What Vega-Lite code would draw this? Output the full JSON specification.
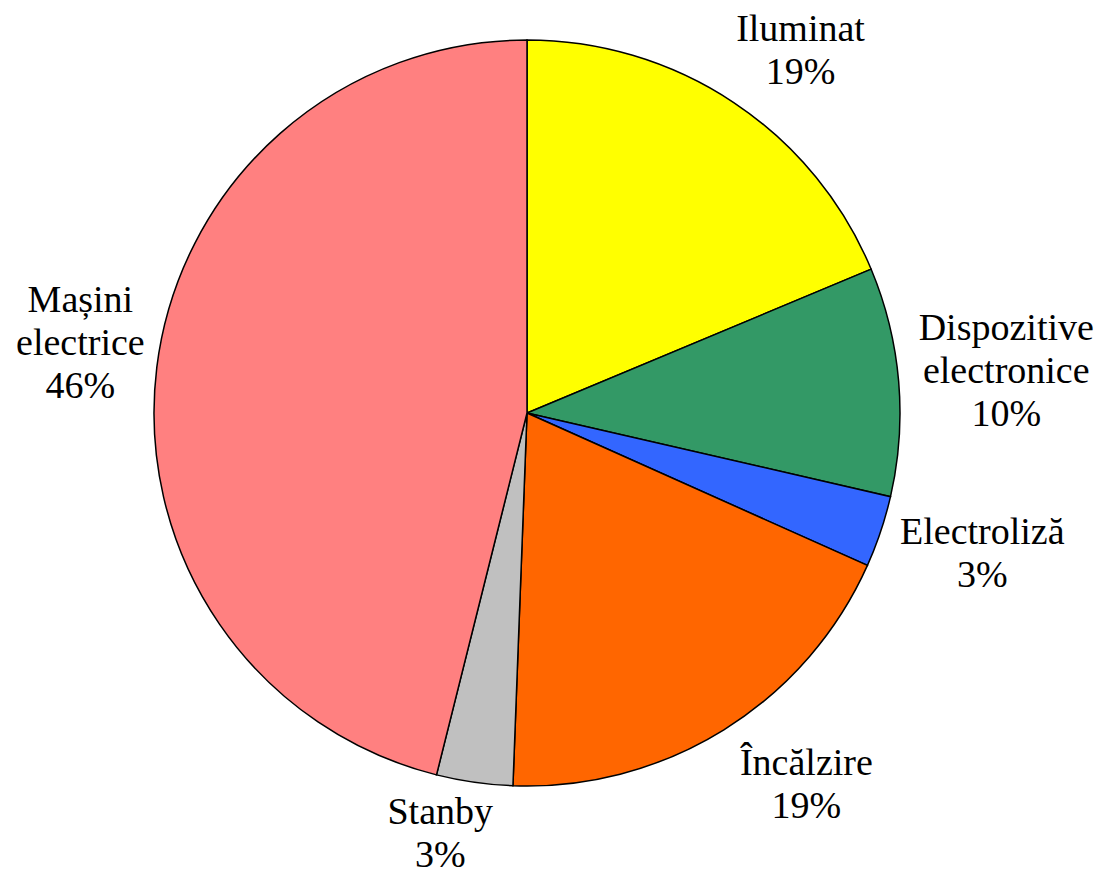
{
  "$schema": "https://vega.github.io/schema/vega-lite/v6.json",
  "autosize": {"type": "none"},
  "width": 1054,
  "height": 826,
  "padding": {"left": 0, "top": 0, "right": 50, "bottom": 48},
  "background": "white",
  "view": {"stroke": null},
  "data": {
    "values": [
      {"idx": 1, "name": "Iluminat", "value": 18.7, "label": "Iluminat\n19%"},
      {"idx": 2, "name": "Dispozitive electronice", "value": 9.9, "label": "Dispozitive\nelectronice\n10%"},
      {"idx": 3, "name": "Electroliză", "value": 3.1, "label": "Electroliză\n3%"},
      {"idx": 4, "name": "Încălzire", "value": 18.9, "label": "Încălzire\n19%"},
      {"idx": 5, "name": "Stanby", "value": 3.3, "label": "Stanby\n3%"},
      {"idx": 6, "name": "Mașini electrice", "value": 46.1, "label": "Mașini\nelectrice\n46%"}
    ]
  },
  "encoding": {
    "theta": {"field": "value", "type": "quantitative", "stack": true},
    "order": {"field": "idx", "type": "quantitative"},
    "color": {
      "field": "name",
      "type": "nominal",
      "legend": null,
      "scale": {
        "domain": ["Iluminat", "Dispozitive electronice", "Electroliză", "Încălzire", "Stanby", "Mașini electrice"],
        "range": ["#FFFF00", "#339966", "#3366FF", "#FF6600", "#C0C0C0", "#FF8080"]
      }
    }
  },
  "layer": [
    {
      "mark": {"type": "arc", "outerRadius": 373, "stroke": "#000000", "strokeWidth": 1.5}
    },
    {
      "mark": {"type": "text", "radius": 452, "dx": 23, "dy": -7, "font": "Liberation Serif", "fontSize": 38, "lineHeight": 43, "lineBreak": "\n", "align": "center", "baseline": "middle"},
      "encoding": {"text": {"condition": {"test": "datum.name === 'Iluminat'", "field": "label"}, "value": ""}, "color": {"value": "#000000"}}
    },
    {
      "mark": {"type": "text", "radius": 481, "dx": 0, "dy": -43, "font": "Liberation Serif", "fontSize": 38, "lineHeight": 43, "lineBreak": "\n", "align": "center", "baseline": "middle"},
      "encoding": {"text": {"condition": {"test": "datum.name === 'Dispozitive electronice'", "field": "label"}, "value": ""}, "color": {"value": "#000000"}}
    },
    {
      "mark": {"type": "text", "radius": 476, "dx": 4, "dy": -31, "font": "Liberation Serif", "fontSize": 38, "lineHeight": 43, "lineBreak": "\n", "align": "center", "baseline": "middle"},
      "encoding": {"text": {"condition": {"test": "datum.name === 'Electroliză'", "field": "label"}, "value": ""}, "color": {"value": "#000000"}}
    },
    {
      "mark": {"type": "text", "radius": 463, "dx": 35, "dy": -42, "font": "Liberation Serif", "fontSize": 38, "lineHeight": 43, "lineBreak": "\n", "align": "center", "baseline": "middle"},
      "encoding": {"text": {"condition": {"test": "datum.name === 'Încălzire'", "field": "label"}, "value": ""}, "color": {"value": "#000000"}}
    },
    {
      "mark": {"type": "text", "radius": 431, "dx": -26, "dy": -27, "font": "Liberation Serif", "fontSize": 38, "lineHeight": 43, "lineBreak": "\n", "align": "center", "baseline": "middle"},
      "encoding": {"text": {"condition": {"test": "datum.name === 'Stanby'", "field": "label"}, "value": ""}, "color": {"value": "#000000"}}
    },
    {
      "mark": {"type": "text", "radius": 452, "dx": 2, "dy": -57, "font": "Liberation Serif", "fontSize": 38, "lineHeight": 43, "lineBreak": "\n", "align": "center", "baseline": "middle"},
      "encoding": {"text": {"condition": {"test": "datum.name === 'Mașini electrice'", "field": "label"}, "value": ""}, "color": {"value": "#000000"}}
    }
  ]
}
